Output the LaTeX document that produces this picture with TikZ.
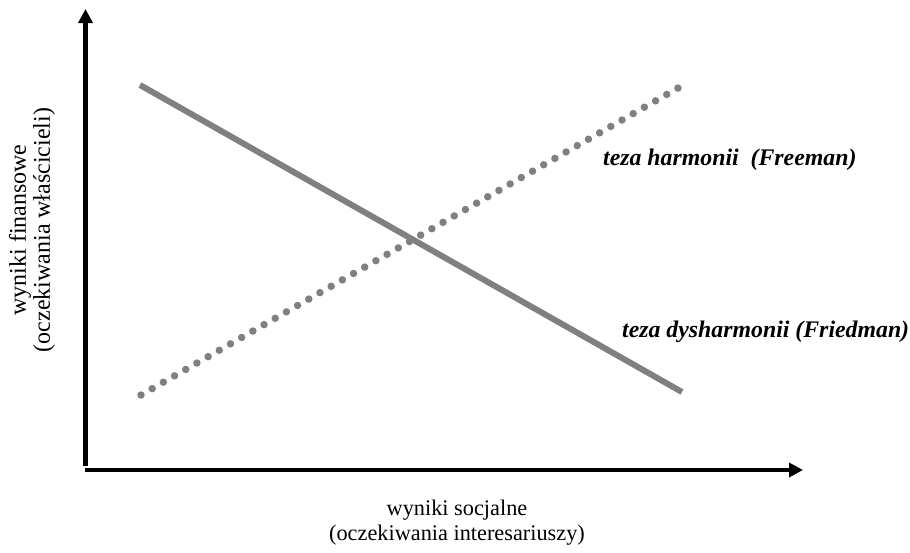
\documentclass[tikz,border=0pt]{standalone}
\usepackage{fontspec}
\setmainfont{Liberation Serif}
\usetikzlibrary{arrows.meta}
\begin{document}
\begin{tikzpicture}[x=1pt,y=-1pt,
  axis/.style={line width=4.2pt,-{Triangle[length=14pt,width=14pt]}},
  trend/.style={draw={rgb,255:red,128;green,128;blue,128},line width=6pt},
  dotline/.style={draw={rgb,255:red,128;green,128;blue,128},line width=7.5pt,
    line cap=round,dash pattern=on 0pt off 12.885pt},
  thesis/.style={font=\fontsize{23.8}{28}\selectfont\bfseries\itshape,anchor=base west,inner sep=0pt},
  axislabel/.style={font=\fontsize{22.3}{25}\selectfont,align=center,inner sep=0pt}]
\useasboundingbox (0,0) rectangle (910,552);
% axes
\coordinate (yb) at (85.5,466);
\coordinate (yt) at (85.5,9);
\coordinate (xl) at (85,470);
\coordinate (xr) at (803,470);
\draw[axis] (yb) -- (yt);
\draw[axis] (xl) -- (xr);
% falling line
\coordinate (fa) at (140,85);
\coordinate (fb) at (682,392);
\draw[trend] (fa) -- (fb);
% rising dotted line
\coordinate (ra) at (141,395);
\coordinate (rb) at (678,88);
\draw[dotline] (ra) -- (rb);
% labels
\node[thesis] (harm) at (603,165) {teza harmonii\ \ (Freeman)};
\node[thesis] (dysh) at (622,337) {teza dysharmonii (Friedman)};
\node[axislabel] (xlab) at (457,523) {wyniki socjalne\\(oczekiwania interesariuszy)};
\node[axislabel,font=\fontsize{24}{24}\selectfont,rotate=90] (ylab) at (32,230) {wyniki finansowe\\(oczekiwania właścicieli)};
\end{tikzpicture}
\end{document}
